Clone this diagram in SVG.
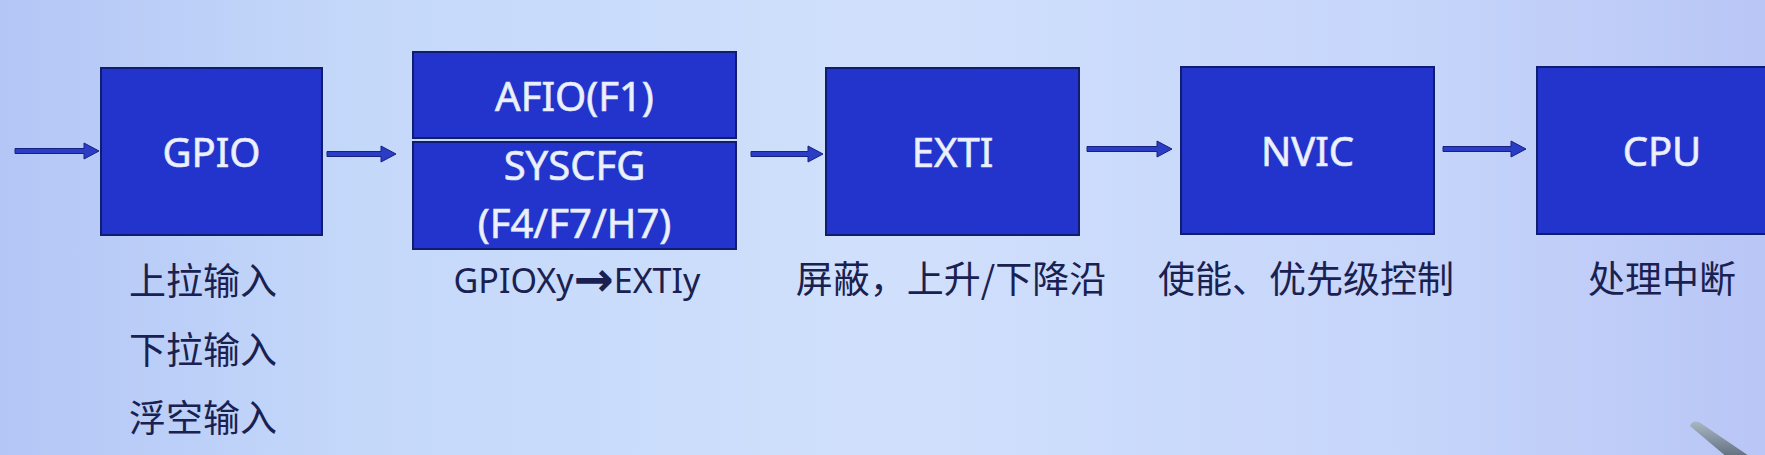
<svg xmlns="http://www.w3.org/2000/svg" width="1765" height="455" viewBox="0 0 1765 455">
<defs>
<linearGradient id="bg" x1="0" y1="0" x2="1" y2="0">
<stop offset="0" stop-color="#b4c6f6"/>
<stop offset="0.2" stop-color="#c4d8fa"/>
<stop offset="0.5" stop-color="#d0e0fc"/>
<stop offset="0.8" stop-color="#c6d5fa"/>
<stop offset="1" stop-color="#b9c6f6"/>
</linearGradient>
<linearGradient id="pen" x1="0" y1="0" x2="0" y2="1">
<stop offset="0" stop-color="#a9b6c4"/>
<stop offset="1" stop-color="#5f6d7e"/>
</linearGradient>
<style>
.box{fill:#2234cb;stroke:#101c6e;stroke-width:2}
.bt{font-family:"Noto Sans","Open Sans",sans-serif;font-size:40px;fill:#eef1fb;stroke:#dfe6fb;stroke-width:0.7;text-anchor:middle}
.lab{font-family:"Noto Sans CJK SC","Noto Sans",sans-serif;font-size:37px;fill:#1a2150;text-anchor:middle}
.lat{font-family:"Noto Sans","Open Sans",sans-serif;font-size:34px;fill:#1a2150;text-anchor:middle}
.ar{font-family:"DejaVu Sans",sans-serif;font-size:48px;font-weight:bold}
.arr{fill:#2b3cc6;stroke:#16227e;stroke-width:1}
</style>
</defs>
<rect width="1765" height="455" fill="url(#bg)"/>
<g id="connectors">
<path class="arr" d="M15,148.5 H84 V143 L99,151 L84,159 V153.5 H15 Z"/>
<path class="arr" d="M327,151.5 H381 V146 L396,154 L381,162 V156.5 H327 Z"/>
<path class="arr" d="M751,151.5 H808 V146 L823,154 L808,162 V156.5 H751 Z"/>
<path class="arr" d="M1087,146.5 H1157 V141 L1172,149 L1157,157 V151.5 H1087 Z"/>
<path class="arr" d="M1443,146.5 H1511 V141 L1526,149 L1511,157 V151.5 H1443 Z"/>
</g>
<g id="gpio">
<rect class="box" x="101" y="68" width="221" height="167"/>
<text class="bt" x="211.5" y="167">GPIO</text>
<text class="lab" x="203" y="295">上拉输入</text>
<text class="lab" x="203" y="364">下拉输入</text>
<text class="lab" x="203" y="432">浮空输入</text>
</g>
<g id="afio">
<rect class="box" x="413" y="52" width="323" height="86"/>
<text class="bt" x="574.5" y="111">AFIO(F1)</text>
</g>
<g id="syscfg">
<rect class="box" x="413" y="142" width="323" height="107"/>
<text class="bt" x="574.5" y="180">SYSCFG</text>
<text class="bt" x="574.5" y="238">(F4/F7/H7)</text>
<text class="lat" x="577" y="293">GPIOXy<tspan class="ar" dy="3">→</tspan><tspan dy="-3">EXTIy</tspan></text>
</g>
<g id="exti">
<rect class="box" x="826" y="68" width="253" height="167"/>
<text class="bt" x="952.5" y="167">EXTI</text>
<text class="lab" x="951" y="293">屏蔽，上升/下降沿</text>
</g>
<g id="nvic">
<rect class="box" x="1181" y="67" width="253" height="167"/>
<text class="bt" x="1307.5" y="166">NVIC</text>
<text class="lab" x="1306" y="293">使能、优先级控制</text>
</g>
<g id="cpu">
<rect class="box" x="1537" y="67" width="253" height="167"/>
<text class="bt" x="1662" y="166">CPU</text>
<text class="lab" x="1662" y="293">处理中断</text>
</g>
<path d="M1690,426 Q1692,420 1699,422 L1752,458 L1728,458 Z" fill="url(#pen)"/>
</svg>
